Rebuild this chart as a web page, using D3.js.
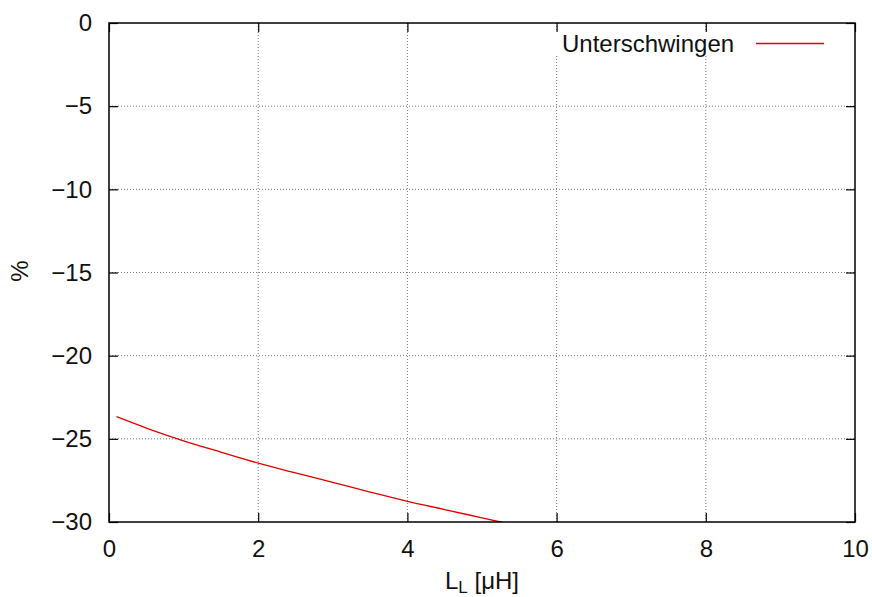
<!DOCTYPE html>
<html>
<head>
<meta charset="utf-8">
<script src="https://cdn.jsdelivr.net/npm/d3@7"></script>
<style>
  body { margin: 0; background: #fff; }
  text { font-family: "Liberation Sans", Arial, sans-serif; }
</style>
</head>
<body>
<svg id="chart" width="872" height="597"></svg>
<script>
// inductance L_L in µH and undershoot in %
const inductance = [0.1, 0.5, 1, 1.5, 2, 2.5, 3, 3.5, 4, 4.5, 5, 5.5];
const undershoot = [-23.67, -24.35, -25.12, -25.8, -26.46, -27.05, -27.62, -28.2, -28.76, -29.25, -29.75, -30.25];
const xTicks = [0, 2, 4, 6, 8, 10];
const yTicks = [0, -5, -10, -15, -20, -25, -30];
const seriesName = "Unterschwingen";

const width = 872, height = 597;
const margin = { left: 109, right: 17, top: 23, bottom: 75 };
const fontSize = 24;
const svg = d3.select("#chart");

const x = d3.scaleLinear().domain([0, 10]).range([margin.left, width - margin.right]);
const y = d3.scaleLinear().domain([-30, 0]).range([height - margin.bottom, margin.top]);
const fmt = d => d < 0 ? "\u2212" + Math.abs(d) : String(d);

// grid
const grid = svg.append("g")
    .attr("stroke", "#777")
    .attr("stroke-width", 1)
    .attr("stroke-dasharray", "1,2");
grid.selectAll(".gx")
    .data(xTicks.slice(1, -1))
    .enter().append("line")
    .attr("x1", d => x(d)).attr("x2", d => x(d))
    .attr("y1", y(-30)).attr("y2", y(0));
grid.selectAll(".gy")
    .data(yTicks.slice(1, -1))
    .enter().append("line")
    .attr("x1", x(0)).attr("x2", x(10))
    .attr("y1", d => y(d)).attr("y2", d => y(d));

// data line, clipped to plot area
svg.append("clipPath").attr("id", "clip")
    .append("rect")
    .attr("x", x(0)).attr("y", y(0))
    .attr("width", x(10) - x(0)).attr("height", y(-30) - y(0));

const line = d3.line()
    .x((d, i) => x(inductance[i]))
    .y(d => y(d))
    .curve(d3.curveMonotoneX);

svg.append("path")
    .datum(undershoot)
    .attr("clip-path", "url(#clip)")
    .attr("fill", "none")
    .attr("stroke", "#e00000")
    .attr("stroke-width", 1.3)
    .attr("d", line);

// key box (opaque)
svg.append("rect")
    .attr("x", 549).attr("y", 31)
    .attr("width", 290).attr("height", 24)
    .attr("fill", "#fff");
svg.append("text")
    .attr("x", 562).attr("y", 52)
    .attr("font-size", fontSize)
    .attr("fill", "#111")
    .text(seriesName);
svg.append("line")
    .attr("x1", 756).attr("x2", 824)
    .attr("y1", 43.5).attr("y2", 43.5)
    .attr("stroke", "#e00000")
    .attr("stroke-width", 1.3);

// axes: ticks inward, mirrored
const tickLen = 9;
const axes = svg.append("g");

axes.append("g")
    .attr("transform", `translate(0,${y(-30)})`)
    .call(d3.axisBottom(x).tickValues(xTicks).tickSize(-tickLen).tickPadding(18).tickFormat(fmt));
axes.append("g")
    .attr("transform", `translate(0,${y(0)})`)
    .call(d3.axisTop(x).tickValues(xTicks).tickSize(-tickLen).tickFormat(""));
axes.append("g")
    .attr("transform", `translate(${x(0)},0)`)
    .call(d3.axisLeft(y).tickValues(yTicks).tickSize(-tickLen).tickPadding(17).tickFormat(fmt));
axes.append("g")
    .attr("transform", `translate(${x(10)},0)`)
    .call(d3.axisRight(y).tickValues(yTicks).tickSize(-tickLen).tickFormat(""));

axes.selectAll(".domain").remove();
axes.selectAll(".tick line").attr("stroke", "#000").attr("stroke-width", 1.2);
axes.selectAll(".tick text")
    .attr("fill", "#111")
    .style("font-family", "'Liberation Sans', Arial, sans-serif")
    .attr("font-size", fontSize);

// border
svg.append("rect")
    .attr("x", x(0)).attr("y", y(0))
    .attr("width", x(10) - x(0)).attr("height", y(-30) - y(0))
    .attr("fill", "none")
    .attr("stroke", "#000")
    .attr("stroke-width", 1.5);

// axis labels
const xl = svg.append("text")
    .attr("x", 482).attr("y", 589)
    .attr("text-anchor", "middle")
    .attr("font-size", fontSize)
    .attr("fill", "#111");
xl.append("tspan").text("L");
xl.append("tspan").attr("font-size", 17).attr("dy", 4).text("L");
xl.append("tspan").attr("dy", -4).text(" [\u03bcH]");

svg.append("text")
    .attr("transform", "translate(28,271) rotate(-90)")
    .attr("text-anchor", "middle")
    .attr("font-size", fontSize)
    .attr("fill", "#111")
    .text("%");
</script>
</body>
</html>
